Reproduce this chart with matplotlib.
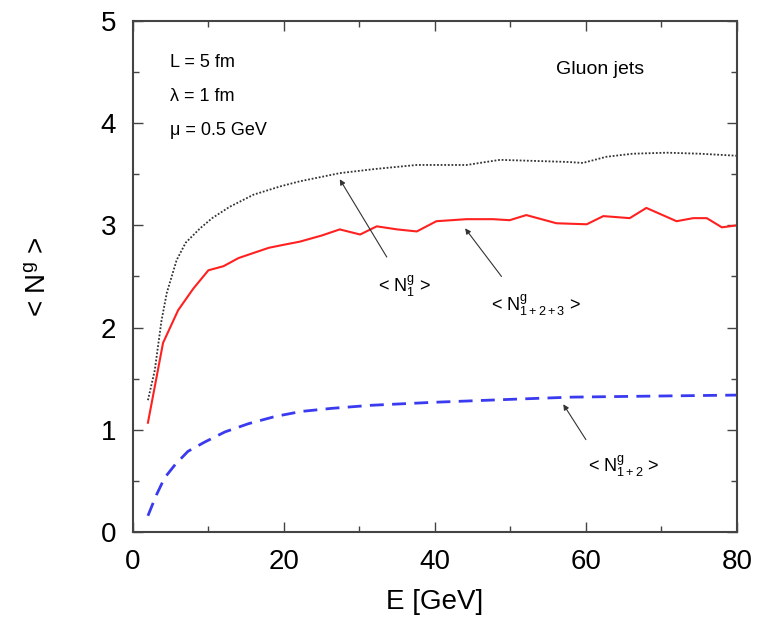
import matplotlib
matplotlib.use("Agg")
import matplotlib.pyplot as plt
from matplotlib.ticker import MultipleLocator

plt.rcParams['font.family'] = ['Liberation Sans', 'DejaVu Sans']
plt.rcParams['mathtext.fontset'] = 'custom'
plt.rcParams['mathtext.rm'] = 'Liberation Sans'
plt.rcParams['mathtext.it'] = 'Liberation Sans'

# <N^g_1>
e_n1 = [2, 2.9, 3.8, 4.5, 5.8, 7, 8.9, 10.5, 12.8, 16, 19.5, 22.1, 27.4, 32,
        37.6, 44.2, 48.6, 53, 57.4, 59.6, 62.7, 66.2, 70.7, 75.1, 80]
n1 = [1.29, 1.58, 2.07, 2.34, 2.66, 2.83, 2.97, 3.07, 3.18, 3.30, 3.38, 3.43,
      3.51, 3.55, 3.59, 3.59, 3.64, 3.63, 3.62, 3.61, 3.67, 3.70, 3.71, 3.70, 3.68]

# <N^g_1+2+3>
e_n123 = [2, 2.9, 4, 6, 8, 10, 12, 14, 16, 18, 20, 22.1, 25, 27.4, 30.1, 32.3,
          35, 37.6, 40.2, 44.2, 47.7, 49.9, 52.1, 56.1, 60.1, 62.3, 65.8, 68,
          72, 74.2, 76, 78, 80]
n123 = [1.07, 1.42, 1.85, 2.17, 2.38, 2.56, 2.60, 2.68, 2.73, 2.78, 2.81, 2.84,
        2.90, 2.96, 2.91, 2.99, 2.96, 2.94, 3.04, 3.06, 3.06, 3.05, 3.10, 3.02,
        3.01, 3.09, 3.07, 3.17, 3.04, 3.07, 3.07, 2.98, 3.00]

# <N^g_1+2>
e_n12 = [2, 3.1, 4.2, 5.6, 7.3, 9.5, 12.2, 15.3, 18.8, 22.3, 26.3, 31.5, 40,
         50.6, 58.1, 68.7, 80]
n12 = [0.16, 0.36, 0.53, 0.66, 0.79, 0.88, 0.98, 1.06, 1.13, 1.18, 1.21, 1.24,
       1.27, 1.30, 1.32, 1.33, 1.34]

fig = plt.figure(figsize=(7.59, 6.29), dpi=100)
ax = fig.add_axes([0.175, 0.154, 0.796, 0.813])

ax.plot(e_n1, n1, color='#333333', linestyle=(0, (1, 1)), linewidth=1.3)
ax.plot(e_n123, n123, color='#ff2020', linestyle='-', linewidth=1.5)
ax.plot(e_n12, n12, color='#3a3af0', linestyle=(0, (5, 3)), linewidth=2.0)

ax.set_xlim(0, 80)
ax.set_ylim(0, 5)
ax.xaxis.set_major_locator(MultipleLocator(20))
ax.xaxis.set_minor_locator(MultipleLocator(10))
ax.yaxis.set_major_locator(MultipleLocator(1))
ax.yaxis.set_minor_locator(MultipleLocator(0.5))
ax.tick_params(which='both', direction='in', top=True, right=True,
               labelsize=20, width=1.0, color='#444444')
ax.tick_params(which='major', length=7, pad=12)
ax.tick_params(which='minor', length=4)
for sp in ax.spines.values():
    sp.set_linewidth(1.5)
    sp.set_color('#444444')

ax.set_xlabel('E [GeV]', fontsize=20, labelpad=10)
ax.set_ylabel(r'< N$^{\mathregular{g}}$ >', fontsize=20, labelpad=36)

# parameters and title text
ax.text(4.9, 4.59, 'L = 5 fm', fontsize=13, va='center')
ax.text(4.9, 4.26, 'λ = 1 fm', fontsize=13, va='center')
ax.text(4.9, 3.93, 'μ = 0.5 GeV', fontsize=13, va='center')
ax.text(56.1, 4.52, 'Gluon jets', fontsize=14, va='center')

# curve labels with arrows
arrow = dict(arrowstyle='-|>', color='#333333', lw=0.8, mutation_scale=8)
ax.annotate(r'< N$^{\mathregular{g}}_{\mathregular{1}}$ >', xy=(27.4, 3.45),
            xytext=(36.0, 2.40), fontsize=13, ha='center', va='center',
            arrowprops=dict(arrow, shrinkA=12, shrinkB=0))
ax.annotate(r'< N$^{\mathregular{g}}_{\mathregular{1+2+3}}$ >', xy=(44.0, 2.97),
            xytext=(53.4, 2.22), fontsize=13, ha='center', va='center',
            arrowprops=dict(arrow, shrinkA=12, shrinkB=0,
                            relpos=(0.25, 1.0)))
ax.annotate(r'< N$^{\mathregular{g}}_{\mathregular{1+2}}$ >', xy=(57.0, 1.25),
            xytext=(65.0, 0.64), fontsize=13, ha='center', va='center',
            arrowprops=dict(arrow, shrinkA=10, shrinkB=0,
                            relpos=(0.1, 1.0)))

fig.savefig('out.png', dpi=100)
